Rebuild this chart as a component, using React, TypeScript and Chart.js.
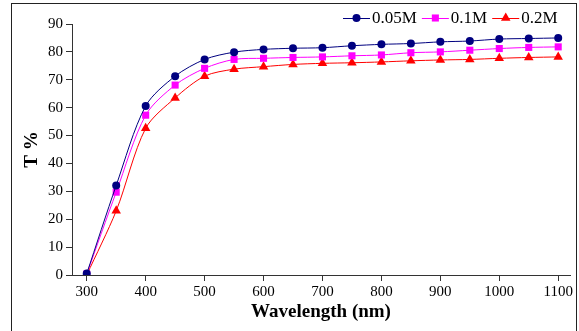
import React, { useEffect, useRef } from 'react';
import { Chart, registerables } from 'chart.js';

Chart.register(...registerables);

const wavelengths = [300, 350, 400, 450, 500, 550, 600, 650, 700, 750, 800, 850, 900, 950, 1000, 1050, 1100];
const t005M = [0.5, 32.1, 60.6, 71.3, 77.3, 79.9, 80.9, 81.3, 81.5, 82.2, 82.7, 83.0, 83.6, 83.9, 84.6, 84.8, 85.0];
const t01M = [0.3, 29.7, 57.3, 68.1, 74.1, 77.3, 77.7, 78.0, 78.2, 78.6, 78.9, 79.7, 80.0, 80.6, 81.2, 81.6, 81.8];
const t02M = [0.0, 23.0, 52.6, 63.5, 71.3, 73.8, 74.7, 75.5, 75.9, 76.1, 76.4, 76.8, 77.1, 77.3, 77.7, 78.0, 78.2];
const seriesLabels = ['0.05M', '0.1M', '0.2M'];
const xTickValues = [300, 400, 500, 600, 700, 800, 900, 1000, 1100];
const yTickValues = [0, 10, 20, 30, 40, 50, 60, 70, 80, 90];

const SERIF = '"Liberation Serif", "Times New Roman", serif';

function drawMarker(ctx: CanvasRenderingContext2D, style: string, r: number, x: number, y: number) {
  ctx.beginPath();
  if (style === 'circle') {
    ctx.arc(x, y, r, 0, Math.PI * 2);
  } else if (style === 'rect') {
    const s = Math.SQRT1_2 * r;
    ctx.rect(x - s, y - s, 2 * s, 2 * s);
  } else if (style === 'triangle') {
    ctx.moveTo(x, y - r);
    ctx.lineTo(x + r * Math.sin(Math.PI / 3), y + r / 2);
    ctx.lineTo(x - r * Math.sin(Math.PI / 3), y + r / 2);
    ctx.closePath();
  }
  ctx.fill();
}

const frameAndLegend = {
  id: 'frameAndLegend',
  beforeDraw(chart: any) {
    const ctx = chart.ctx;
    ctx.save();
    ctx.fillStyle = '#fff';
    ctx.fillRect(0, 0, chart.width, chart.height);
    ctx.strokeStyle = '#222';
    ctx.lineWidth = 1;
    ctx.strokeRect(11.5, 3.5, 565, 400);
    ctx.restore();
  },
  afterDraw(chart: any) {
    const ctx = chart.ctx;
    ctx.save();
    ctx.font = `17px ${SERIF}`;
    ctx.textBaseline = 'middle';
    ctx.textAlign = 'left';
    const y = 18;
    let x = 343;
    chart.data.datasets.forEach((ds: any) => {
      ctx.strokeStyle = ds.borderColor;
      ctx.lineWidth = 1;
      ctx.beginPath();
      ctx.moveTo(x, y + 0.5);
      ctx.lineTo(x + 27, y + 0.5);
      ctx.stroke();
      ctx.fillStyle = ds.pointBackgroundColor;
      drawMarker(ctx, ds.pointStyle, ds.pointRadius, x + 13.5, y);
      ctx.fillStyle = '#000';
      ctx.fillText(ds.label, x + 29, y + 1);
      x += 29 + ctx.measureText(ds.label).width + 5;
    });
    ctx.restore();
  },
};

export default function App() {
  const canvasRef = useRef<HTMLCanvasElement | null>(null);

  useEffect(() => {
    if (!canvasRef.current) return;
    const mk = (label: string, values: number[], color: string, style: string, r: number) => ({
      label,
      data: wavelengths.map((w, i) => ({ x: w, y: values[i] })),
      borderColor: color,
      backgroundColor: color,
      pointBackgroundColor: color,
      pointBorderColor: color,
      pointStyle: style,
      pointRadius: r,
      pointBorderWidth: 0,
      borderWidth: 1,
      tension: 0.3,
    });
    const chart = new Chart(canvasRef.current, {
      type: 'line',
      data: {
        datasets: [
          mk(seriesLabels[0], t005M, '#000080', 'circle', 4),
          mk(seriesLabels[1], t01M, '#FF00FF', 'rect', 5),
          mk(seriesLabels[2], t02M, '#FF0000', 'triangle', 5.5),
        ],
      },
      options: {
        animation: false,
        responsive: true,
        maintainAspectRatio: false,
        layout: { padding: { left: 12, right: 9, top: 24, bottom: 0 } },
        plugins: {
          legend: { display: false },
          tooltip: { enabled: false },
        },
        scales: {
          x: {
            type: 'linear',
            min: 275,
            max: 1120,
            afterFit: (s: any) => { s.height = 56; },
            afterBuildTicks: (s: any) => { s.ticks = xTickValues.map((v) => ({ value: v })); },
            grid: { display: true, drawOnChartArea: false, drawTicks: true, tickLength: 6, color: '#333' },
            border: { display: true, color: '#333', width: 1 },
            ticks: {
              color: '#000',
              font: { family: SERIF, size: 15 },
              padding: 2,
              maxRotation: 0,
              callback: (v: any) => String(v),
            },
            title: {
              display: true,
              text: 'Wavelength (nm)',
              color: '#000',
              font: { family: SERIF, size: 19, weight: 'bold' },
              padding: { top: 0, bottom: 8 },
            },
          },
          y: {
            type: 'linear',
            min: 0,
            max: 90,
            afterFit: (s: any) => { s.width = 60; },
            afterBuildTicks: (s: any) => { s.ticks = yTickValues.map((v) => ({ value: v })); },
            grid: { display: true, drawOnChartArea: false, drawTicks: true, tickLength: 6, color: '#333' },
            border: { display: true, color: '#333', width: 1 },
            ticks: { color: '#000', font: { family: SERIF, size: 15 }, padding: 3, callback: (v: any) => String(v) },
            title: {
              display: true,
              text: 'T %',
              color: '#000',
              font: { family: SERIF, size: 19, weight: 'bold' },
              padding: { top: 9, bottom: 0 },
            },
          },
        },
      },
      plugins: [frameAndLegend],
    });
    return () => chart.destroy();
  }, []);

  return (
    <div style={{ position: 'absolute', left: 0, top: 0, width: 579, height: 331, background: '#fff' }}>
      <canvas ref={canvasRef} />
    </div>
  );
}
